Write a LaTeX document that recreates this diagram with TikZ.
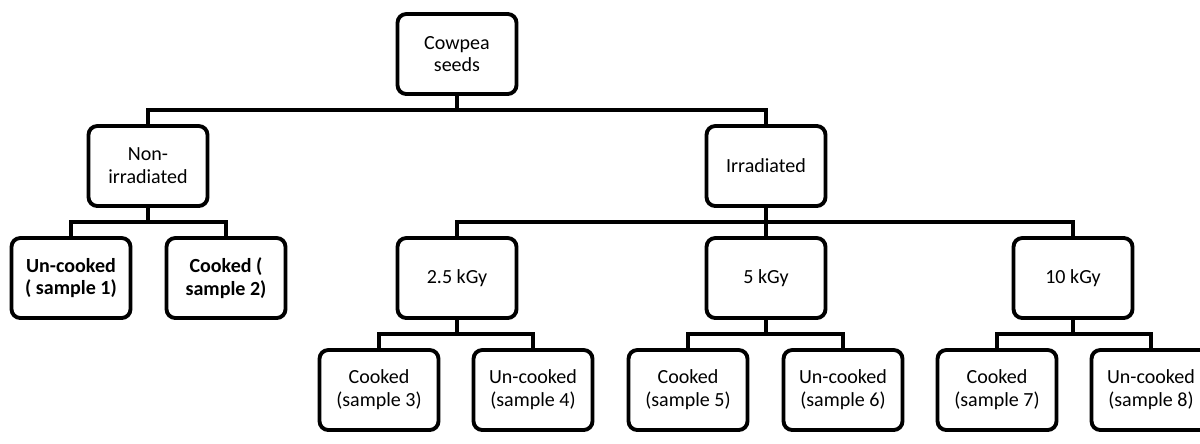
\documentclass[tikz,border=0pt]{standalone}
\usepackage{fontspec}
\setmainfont{Carlito}
\usetikzlibrary{calc}

\begin{document}
\begin{tikzpicture}[
    x=0.02cm, y=-0.02cm,
    box/.style={draw, line width=2.2pt, rounded corners=5pt, fill=white,
                minimum width=2.38cm, minimum height=1.6cm, align=center,
                inner sep=2pt, font=\fontsize{11.4}{13}\selectfont},
    boldbox/.style={box, font=\fontsize{11.4}{13}\selectfont\bfseries},
    link/.style={line width=1.8pt},
]
\useasboundingbox (0,0) rectangle (1200,443);

% === Root ===
\node[box] (root) at (457, 54) {Cowpea\\seeds};

% === Treatment ===
\node[box] (nonirr) at (148, 166) {Non-\\irradiated};
\node[box] (irr)    at (766, 166) {Irradiated};

% === Non-irradiated samples ===
\node[boldbox] (un1) at (71, 278)  {Un-cooked\\( sample 1)};
\node[boldbox] (co2) at (226, 278) {Cooked (\\sample 2)};

% === Doses ===
\node[box] (g25) at (457, 278)  {2.5 kGy};
\node[box] (g5)  at (766, 278)  {5 kGy};
\node[box] (g10) at (1073, 278) {10 kGy};

% === Irradiated samples ===
\node[box] (co3) at (379, 390)  {Cooked\\(sample 3)};
\node[box] (un4) at (533, 390)  {Un-cooked\\(sample 4)};
\node[box] (co5) at (688, 390)  {Cooked\\(sample 5)};
\node[box] (un6) at (843, 390)  {Un-cooked\\(sample 6)};
\node[box] (co7) at (997, 390)  {Cooked\\(sample 7)};
\node[box] (un8) at (1151, 390) {Un-cooked\\(sample 8)};

% === Elbow connectors parent -> child ===
\foreach \p/\c in {root/nonirr, root/irr, nonirr/un1, nonirr/co2,
                   irr/g25, irr/g5, irr/g10, g25/co3, g25/un4,
                   g5/co5, g5/un6, g10/co7, g10/un8}
  \draw[link] (\p.south) |- ($(\p.south)!0.5!(\c.north)$) -| (\c.north);

\end{tikzpicture}
\end{document}
